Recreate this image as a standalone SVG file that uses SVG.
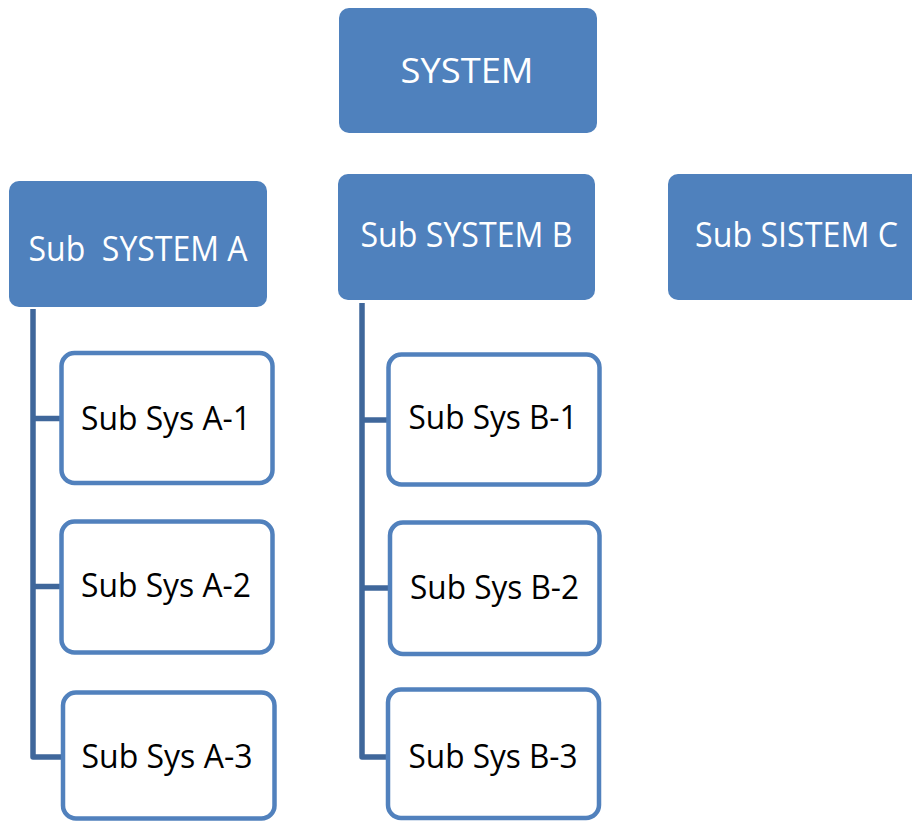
<svg xmlns="http://www.w3.org/2000/svg" width="912" height="821" viewBox="0 0 912 821">
  <style>
    .head rect { fill: #4f81bd; }
    .head text { fill: #ffffff; font-family: "Open Sans", "Liberation Sans", sans-serif; font-size: 35px; text-anchor: middle; }
    .item rect { fill: #ffffff; stroke: #5181bd; stroke-width: 4.5; }
    .item text { fill: #000000; font-family: "Open Sans", "Liberation Sans", sans-serif; font-size: 33px; text-anchor: middle; }
    .wire { fill: none; stroke: #3f679b; stroke-width: 5.5; stroke-linejoin: round; }
  </style>

  <!-- tree connectors -->
  <g id="connectors">
    <path class="wire" d="M33 309 V757 H62"/>
    <path class="wire" d="M33 418.5 H62"/>
    <path class="wire" d="M33 586.5 H62"/>
    <path class="wire" d="M362 303 V757 H389"/>
    <path class="wire" d="M362 420 H389"/>
    <path class="wire" d="M362 588 H390"/>
  </g>

  <!-- top level -->
  <g id="system" class="head">
    <rect x="339" y="8" width="258" height="125" rx="10"/>
    <text x="467" y="83" textLength="133" lengthAdjust="spacingAndGlyphs">SYSTEM</text>
  </g>

  <!-- second level -->
  <g id="subsystem-a" class="head">
    <rect x="9" y="181" width="258" height="126" rx="10"/>
    <text x="138" y="260.5" textLength="219" lengthAdjust="spacingAndGlyphs" xml:space="preserve">Sub  SYSTEM A</text>
  </g>
  <g id="subsystem-b" class="head">
    <rect x="338" y="174" width="257" height="126" rx="10"/>
    <text x="466.5" y="246.5" textLength="212" lengthAdjust="spacingAndGlyphs">Sub SYSTEM B</text>
  </g>
  <g id="subsystem-c" class="head">
    <rect x="668" y="174" width="258" height="126" rx="10"/>
    <text x="796.5" y="246.5" textLength="203" lengthAdjust="spacingAndGlyphs">Sub SISTEM C</text>
  </g>

  <!-- branch A items -->
  <g id="sub-sys-a1" class="item">
    <rect x="61.5" y="353" width="211" height="130" rx="13"/>
    <text x="166" y="430" textLength="170" lengthAdjust="spacingAndGlyphs">Sub Sys A-1</text>
  </g>
  <g id="sub-sys-a2" class="item">
    <rect x="61.5" y="521.5" width="211" height="131" rx="13"/>
    <text x="166" y="596.5" textLength="170" lengthAdjust="spacingAndGlyphs">Sub Sys A-2</text>
  </g>
  <g id="sub-sys-a3" class="item">
    <rect x="63" y="692.5" width="211.5" height="126" rx="13"/>
    <text x="167" y="768" textLength="171" lengthAdjust="spacingAndGlyphs">Sub Sys A-3</text>
  </g>

  <!-- branch B items -->
  <g id="sub-sys-b1" class="item">
    <rect x="388.5" y="354.5" width="211" height="130" rx="13"/>
    <text x="493" y="428.5" textLength="169" lengthAdjust="spacingAndGlyphs">Sub Sys B-1</text>
  </g>
  <g id="sub-sys-b2" class="item">
    <rect x="390" y="522.5" width="209.5" height="131.5" rx="13"/>
    <text x="494.5" y="599" textLength="169" lengthAdjust="spacingAndGlyphs">Sub Sys B-2</text>
  </g>
  <g id="sub-sys-b3" class="item">
    <rect x="388" y="689.5" width="211" height="128.5" rx="13"/>
    <text x="493" y="768" textLength="169" lengthAdjust="spacingAndGlyphs">Sub Sys B-3</text>
  </g>
</svg>
